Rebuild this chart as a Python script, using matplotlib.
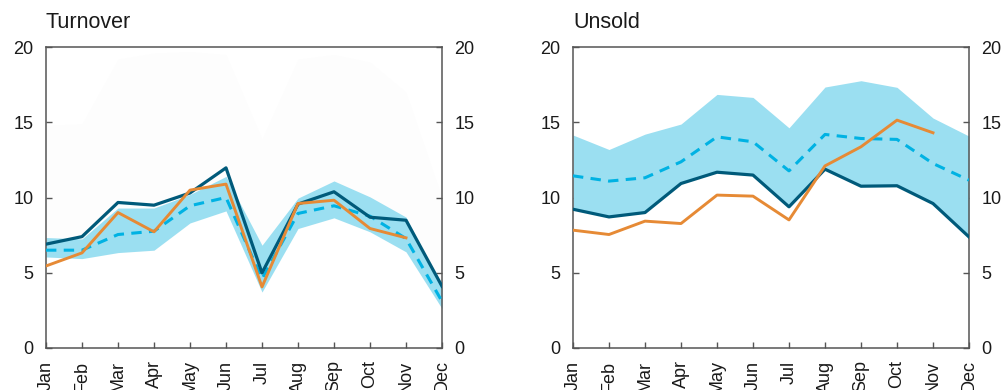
import matplotlib.pyplot as plt
import numpy as np

plt.rcParams["font.family"] = ["Liberation Sans", "DejaVu Sans"]

months = ["Jan", "Feb", "Mar", "Apr", "May", "Jun", "Jul", "Aug", "Sep", "Oct", "Nov", "Dec"]

# Turnover
turn_actual = [6.9, 7.4, 9.67, 9.49, 10.3, 11.97, 4.99, 9.56, 10.38, 8.69, 8.49, 4.1]
turn_orange = [5.45, 6.32, 9.0, 7.72, 10.49, 10.89, 4.06, 9.6, 9.82, 7.94, 7.32]
turn_median = [6.5, 6.5, 7.54, 7.76, 9.45, 10.0, 4.6, 8.94, 9.45, 8.76, 7.27, 3.1]
turn_band_hi = [7.34, 7.25, 9.3, 9.3, 10.2, 11.4, 6.83, 9.96, 11.1, 10.04, 8.7, 4.0]
turn_band_lo = [6.05, 5.94, 6.34, 6.5, 8.31, 9.11, 3.72, 7.94, 8.65, 7.72, 6.39, 2.62]
turn_wide_hi = [14.8, 14.9, 19.2, 19.6, 19.7, 19.5, 13.9, 19.2, 19.5, 19.0, 17.0, 10.0]

# Unsold
uns_actual = [9.22, 8.71, 9.0, 10.93, 11.68, 11.49, 9.38, 11.88, 10.75, 10.78, 9.6, 7.38]
uns_orange = [7.83, 7.54, 8.43, 8.27, 10.16, 10.09, 8.51, 12.1, 13.37, 15.14, 14.3]
uns_median = [11.44, 11.09, 11.31, 12.37, 14.03, 13.7, 11.77, 14.19, 13.92, 13.86, 12.26, 11.15]
uns_band_hi = [14.15, 13.19, 14.21, 14.88, 16.85, 16.65, 14.63, 17.34, 17.76, 17.32, 15.28, 14.08]
uns_band_lo = uns_actual

dark = "#005a7a"
orange = "#e68a35"
cyan = "#00b2e3"
band = "#9bdff1"

fig = plt.figure(figsize=(10.01, 3.9), dpi=100)
ax1 = fig.add_axes([46 / 1001, 42 / 390, 396 / 1001, 301 / 390])
ax2 = fig.add_axes([573 / 1001, 42 / 390, 396 / 1001, 301 / 390])


def draw_panel(ax, title, actual, orange_vals, median, hi, lo, wide_hi=None):
    x = np.arange(len(months))
    if wide_hi is not None:
        # very faint outer band, barely visible in the original
        ax.fill_between(x, lo, wide_hi, color="#fdfdfd", lw=0, zorder=1)
    ax.fill_between(x, lo, hi, color=band, lw=0, zorder=2)
    ax.plot(x, median, color=cyan, lw=2.2, dashes=(3.4, 2.4), zorder=3)
    ax.plot(x, actual, color=dark, lw=2.3, zorder=4)
    ax.plot(np.arange(len(orange_vals)), orange_vals, color=orange, lw=2.1, zorder=5)

    ax.set_xlim(0, 11)
    ax.set_ylim(0, 20)
    ax.set_yticks([0, 5, 10, 15, 20])
    ax.set_xticks(x)
    ax.set_xticklabels(months, rotation=90)
    ax.tick_params(axis="both", direction="in", length=4, width=1, color="#555555",
                   labelsize=13, labelcolor="#1a1a1a")
    ax.tick_params(axis="y", right=True, labelright=True, pad=9)
    ax.tick_params(axis="x", pad=9)
    for s in ax.spines.values():
        s.set_color("#555555")
        s.set_linewidth(1.1)
    ax.set_title(title, loc="left", fontsize=15.5, pad=14, color="#1a1a1a")


draw_panel(ax1, "Turnover", turn_actual, turn_orange, turn_median,
           turn_band_hi, turn_band_lo, wide_hi=turn_wide_hi)
draw_panel(ax2, "Unsold", uns_actual, uns_orange, uns_median,
           uns_band_hi, uns_band_lo)

fig.savefig("out.png", dpi=100)
